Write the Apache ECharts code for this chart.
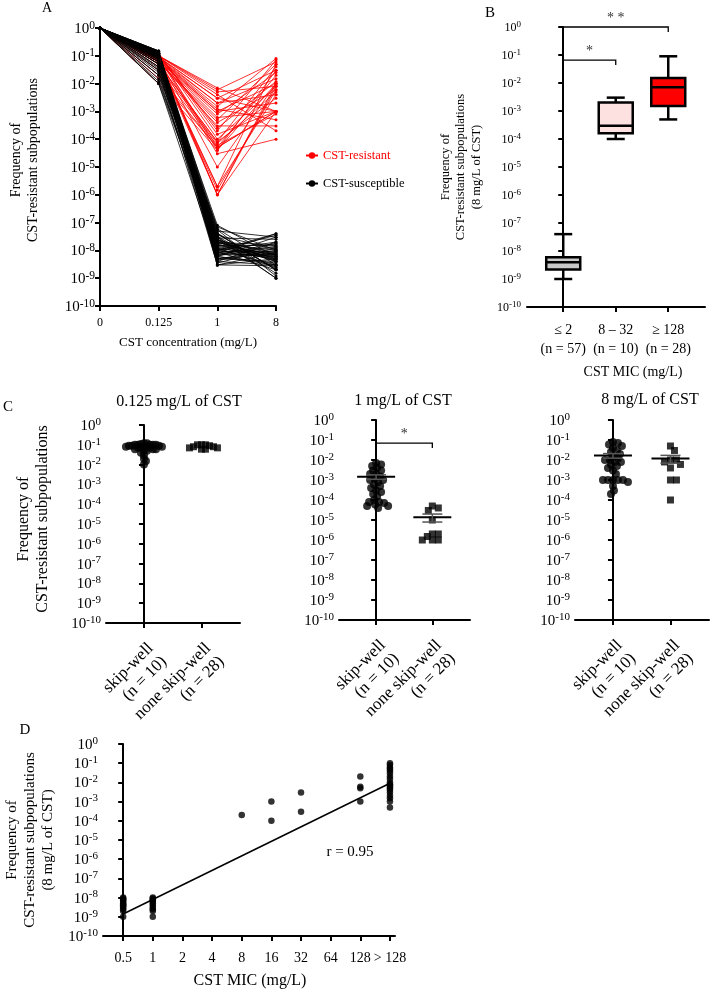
<!DOCTYPE html>
<html><head><meta charset="utf-8">
<script src="https://cdn.jsdelivr.net/npm/echarts@6/dist/echarts.min.js"></script>
<style>html,body{margin:0;padding:0;background:#fff}#c{width:710px;height:992px}</style>
</head><body><div id="c"></div><script>
// ---------------- DATA ----------------
const concLabels = ['0', '0.125', '1', '8'];
const blackAt0125 = [0.15,0.15,0.14,0.14,0.14,0.13,0.13,0.13,0.12,0.12,
  0.12,0.12,0.11,0.11,0.11,0.1,0.1,0.1,0.1,0.1,
  0.09,0.09,0.09,0.09,0.08,0.08,0.08,0.08,0.07,0.07,
  0.07,0.06,0.06,0.06,0.05,0.05,0.05,0.04,0.04,0.035,
  0.03,0.03,0.025,0.02,0.02,0.015,0.012,0.01,0.01,0.13,
  0.12,0.11,0.1,0.09,0.08,0.15,0.14];
const blackAt1 = [2e-8,5e-9,4e-8,1e-8,3e-9,6e-8,1.5e-8,8e-9,3e-8,4e-9,
  2.5e-8,7e-9,5e-8,1.2e-8,3.5e-9,2e-8,9e-9,3e-8,6e-9,1e-8,
  8e-8,1.8e-8,5e-9,4e-8,2.2e-8,1.1e-8,7e-9,3e-9,1.6e-8,2.8e-8,
  6e-9,1.3e-8,3.5e-8,9e-9,2e-8,4.5e-9,1e-8,5.5e-8,1.4e-8,8e-9,
  2.4e-8,3e-9,1.7e-8,7e-8,6e-9,1.2e-8,3.2e-8,5e-9,1.9e-8,1e-8,
  4e-9,2.6e-8,8e-9,1.5e-8,4.2e-8,6.5e-9,2.1e-8];
const blackAt8 = [5e-9,1e-8,2e-9,4e-8,8e-9,3e-9,1.5e-8,6e-9,1e-9,2e-8,
  4e-9,7e-9,3e-8,2.5e-9,1.2e-8,5e-9,9e-9,1.5e-9,3.5e-9,2e-8,
  6e-9,1e-8,4e-9,2e-9,8e-9,3e-9,1.8e-8,5e-9,7e-9,2.5e-8,
  3e-9,4.5e-9,1.1e-8,2e-9,6e-9,9e-9,3.5e-8,1.2e-9,5.5e-9,1.4e-8,
  7e-9,2.8e-9,4e-9,1e-8,3e-8,6e-9,2.2e-9,8e-9,1.6e-8,5e-9,
  3e-9,1e-9,4e-8,7e-9,2e-9,1.3e-8,4.5e-9];

const groupLabelsC = ['skip-well\n(n = 10)', 'none skip-well\n(n = 28)'];
const c1Skip = [0.1,0.1,0.1,0.1,0.09,0.09,0.09,0.08,0.08,0.08,0.08,0.07,0.07,0.07,0.06,0.06,0.06,0.1,0.12,0.12,0.11,0.05,0.05,0.04,0.03,0.02,0.015,0.01];
const c1None = [0.1,0.1,0.09,0.08,0.07,0.06,0.06,0.1,0.08,0.07];
const c2Skip = [7e-3,6e-3,5e-3,4e-3,3e-3,3e-3,2e-3,2e-3,1.5e-3,1.2e-3,1e-3,1e-3,8e-4,6e-4,5e-4,4e-4,3e-4,2.5e-4,2e-4,1.5e-4,1e-4,8e-5,8e-5,7e-5,6e-5,5e-5,5e-5,4e-5];
const c2None = [5e-5,4e-5,3e-5,1e-5,2e-6,2e-6,1e-6,1e-6,1e-6,1.5e-6];
const c3Skip = [0.001,0.06,0.008,0.0002,0.03,0.001,0.015,0.004,0.08,0.0005,0.01,0.002,0.025,0.001,0.05,0.006,0.0003,0.012,0.07,0.001,0.008,0.003,0.04,0.005,0.0008,0.02,0.001,0.01];
const c3None = [0.001,0.03,0.0001,0.01,0.004,0.05,0.001,0.008,0.01,0.006];

const boxGroups = ['\u2264 2\n(n = 57)', '8 \u2013 32\n(n = 10)', '\u2265 128\n(n = 28)'];
// [min, Q1, median, Q3, max]
const boxStats = [[1e-9,2.2e-9,4e-9,6e-9,4e-8],[1e-4,1.6e-4,3e-4,2e-3,3e-3],[5e-4,1.5e-3,7e-3,1.5e-2,9e-2]];

const micLabels = ['0.5','1','2','4','8','16','32','64','128','> 128'];
const dMicIndex = [0,0,0,0,0,0,0,0,0,0,0,0,0, 1,1,1,1,1,1,1,1,1,1,1, 4, 5,5, 6,6, 8,8,8,8,
  9,9,9,9,9,9,9,9,9,9,9,9,9,9,9,9,9,9,9];
const dFreq = [1e-9,2e-9,2.5e-9,3e-9,3.5e-9,4e-9,4.5e-9,5e-9,6e-9,7e-9,8e-9,9e-9,1e-8,
  1e-9,2e-9,2.5e-9,3e-9,4e-9,5e-9,6e-9,7e-9,8e-9,9e-9,1e-8,
  2e-4, 1e-3,1e-4, 3e-3,3e-4, 2e-2,6e-3,5e-3,1e-3,
  0.1,0.08,0.06,0.05,0.04,0.03,0.02,0.015,0.01,0.008,0.007,0.006,0.005,0.004,0.003,0.002,0.0015,0.001,0.0005];
const trendLine = [[0, 1.4e-9], [9, 9e-3]];

// ---------------- HELPERS ----------------
const FONT = 'Liberation Serif';
const redAt0125 = c1Skip.concat(c1None);
const redAt1 = c2Skip.concat(c2None);
const redAt8 = c3Skip.concat(c3None);

const grids = [
  {left:100, top:28, width:176, height:278},   // A
  {left:527, top:27, width:178, height:280},   // B
  {left:106, top:425, width:134, height:198},  // C1
  {left:339, top:420, width:131, height:200},  // C2
  {left:575, top:420, width:134, height:200},  // C3
  {left:103, top:744, width:292, height:192}   // D
];
const axLine = {show:true, lineStyle:{color:'#000', width:2}};
function yLog(gi, bs, ss, margin) {
  return {type:'log', logBase:10, gridIndex:gi, min:1e-10, max:1, interval:1,
    axisLine:axLine, axisTick:{show:true, length:5, lineStyle:{width:2, color:'#000'}},
    splitLine:{show:false},
    axisLabel:{margin:margin, formatter:v => '{b|10}{s|' + Math.round(Math.log10(v)) + '}',
      rich:{b:{fontFamily:FONT, fontSize:bs, color:'#000', lineHeight:bs+2, verticalAlign:'bottom'},
            s:{fontFamily:FONT, fontSize:ss, color:'#000', lineHeight:ss, verticalAlign:'top'}}}};
}
function xCustom(gi, min, max, ticks, labels, lab) {
  return {type:'value', gridIndex:gi, min:min, max:max,
    axisLine:axLine, splitLine:{show:false},
    axisTick:{show:true, length:5, customValues:ticks, lineStyle:{width:2, color:'#000'}},
    axisLabel:Object.assign({customValues:ticks, formatter:v => labels[Math.round(v)],
      fontFamily:FONT, color:'#000'}, lab)};
}
function swarm(values, center, pxPerUnit, pxPerDecade, minDist) {
  const pts = values.map((v, i) => ({v, y: Math.log10(v) * pxPerDecade, i}));
  const order = pts.slice().sort((a, b) => b.v - a.v);
  const placed = [], out = new Array(values.length);
  for (const p of order) {
    let k = 0, dx = 0;
    while (k < 400) {
      const c = k === 0 ? 0 : (k % 2 ? 1 : -1) * Math.ceil(k / 2);
      if (placed.every(q => (q.x - c) ** 2 + (q.y - p.y) ** 2 >= minDist * minDist)) { dx = c; break; }
      k++;
    }
    placed.push({x: dx, y: p.y});
    out[p.i] = [center + dx / pxPerUnit, p.v];
  }
  return out;
}
function meanSem(arr) {
  const n = arr.length, m = arr.reduce((a, b) => a + b, 0) / n;
  const sd = Math.sqrt(arr.reduce((a, b) => a + (b - m) ** 2, 0) / (n - 1));
  const se = sd / Math.sqrt(n);
  return [m, Math.max(m - se, 1e-10), m + se];
}
function meanSeries(xi, groups) {
  return {type:'custom', xAxisIndex:xi, yAxisIndex:xi, z:5, clip:false,
    data: groups.map((g, i) => [i].concat(meanSem(g))),
    renderItem: (params, api) => {
      const x = api.value(0);
      const pm = api.coord([x, api.value(1)]), pl = api.coord([x, api.value(2)]), ph = api.coord([x, api.value(3)]);
      return {type:'group', children:[
        {type:'line', shape:{x1:pm[0]-19, y1:pm[1], x2:pm[0]+19, y2:pm[1]}, style:{stroke:'#000', lineWidth:2}},
        {type:'line', shape:{x1:pm[0], y1:pl[1], x2:pm[0], y2:ph[1]}, style:{stroke:'#555', lineWidth:1.5}},
        {type:'line', shape:{x1:pm[0]-10, y1:pl[1], x2:pm[0]+10, y2:pl[1]}, style:{stroke:'#555', lineWidth:1.5}},
        {type:'line', shape:{x1:pm[0]-10, y1:ph[1], x2:pm[0]+10, y2:ph[1]}, style:{stroke:'#555', lineWidth:1.5}}
      ]};
    }};
}
function bracketSeries(xi, brs) {
  return {type:'custom', xAxisIndex:xi, yAxisIndex:xi, z:6, clip:false,
    data: brs.map(b => [b.from, b.to, b.y]),
    renderItem: (params, api) => {
      const p0 = api.coord([api.value(0), api.value(2)]), p1 = api.coord([api.value(1), api.value(2)]);
      return {type:'group', children:[
        {type:'polyline', shape:{points:[[p0[0], p0[1]+5], [p0[0], p0[1]], [p1[0], p1[1]], [p1[0], p1[1]+5]]},
          style:{stroke:'#000', lineWidth:1.3, fill:null}},
        {type:'text', x:(p0[0]+p1[0])/2, y:p0[1]-2,
          style:{text:brs[params.dataIndex].mark, align:'center', verticalAlign:'bottom', font:'14px "Liberation Serif"', fill:'#333'}}
      ]};
    }};
}
function scatterC(xi, groups, dists) {
  const g = grids[xi];
  const ppu = g.width / (1.67 + 0.66), ppd = g.height / 10;
  return groups.map((arr, i) => ({type:'scatter', xAxisIndex:xi, yAxisIndex:xi, z:3,
    symbol: i === 0 ? 'circle' : 'rect', symbolSize: i === 0 ? 8 : 7,
    itemStyle:{color:'#000'}, data: swarm(arr, i, ppu, ppd, dists[i])}));
}
function t(x, y, text, fs, extra) {
  return Object.assign({type:'text', x:x, y:y,
    style:{text:text, font:fs + 'px "Liberation Serif"', fill:'#000', align:'center', verticalAlign:'middle', lineHeight:fs + 3}}, extra || {});
}

// ---------------- SERIES ----------------
const series = [];
for (let i = 0; i < redAt1.length; i++) {
  series.push({type:'line', name:'CST-resistant', xAxisIndex:0, yAxisIndex:0, z:2,
    data:[[0, 1], [1, redAt0125[i]], [2, redAt1[i]], [3, redAt8[i]]],
    symbol:'circle', symbolSize:3, color:'#ff0000', lineStyle:{width:0.8, color:'#ff0000'}, itemStyle:{color:'#ff0000'}});
}
for (let i = 0; i < blackAt1.length; i++) {
  series.push({type:'line', name:'CST-susceptible', xAxisIndex:0, yAxisIndex:0, z:2,
    data:[[0, 1], [1, blackAt0125[i]], [2, blackAt1[i]], [3, blackAt8[i]]],
    symbol:'circle', symbolSize:3, color:'#000', lineStyle:{width:0.8, color:'#000'}, itemStyle:{color:'#000'}});
}
// B box plots
const boxFill = ['#c8c8c8', '#fde0e0', '#ff0000'];
series.push({type:'custom', xAxisIndex:1, yAxisIndex:1, clip:false,
  data: boxStats.map((s, i) => [i].concat(s)),
  renderItem: (params, api) => {
    const x = api.value(0);
    const p = [1, 2, 3, 4, 5].map(k => api.coord([x, api.value(k)]));
    const cx = p[0][0], hw = 17, hc = 9, st = {stroke:'#000', lineWidth:2.5};
    return {type:'group', children:[
      {type:'line', shape:{x1:cx, y1:p[0][1], x2:cx, y2:p[1][1]}, style:st},
      {type:'line', shape:{x1:cx, y1:p[3][1], x2:cx, y2:p[4][1]}, style:st},
      {type:'line', shape:{x1:cx-hc, y1:p[0][1], x2:cx+hc, y2:p[0][1]}, style:st},
      {type:'line', shape:{x1:cx-hc, y1:p[4][1], x2:cx+hc, y2:p[4][1]}, style:st},
      {type:'rect', shape:{x:cx-hw, y:p[3][1], width:2*hw, height:p[1][1]-p[3][1]},
        style:{fill:boxFill[params.dataIndex], stroke:'#000', lineWidth:2.5}},
      {type:'line', shape:{x1:cx-hw, y1:p[2][1], x2:cx+hw, y2:p[2][1]}, style:st}
    ]};
  }});
series.push(bracketSeries(1, [{from:0, to:1, y:0.066, mark:'*'}, {from:0, to:2, y:1, mark:'* *'}]));
// C panels
series.push(...scatterC(2, [c1Skip, c1None], [3, 4]));
series.push(...scatterC(3, [c2Skip, c2None], [4.5, 5.5]));
series.push(...scatterC(4, [c3Skip, c3None], [4.5, 5.5]));
series.push(meanSeries(3, [c2Skip, c2None]));
series.push(meanSeries(4, [c3Skip, c3None]));
series.push(bracketSeries(3, [{from:0, to:1, y:0.07, mark:'*'}]));
// D
series.push({type:'scatter', xAxisIndex:5, yAxisIndex:5, symbolSize:6.5, itemStyle:{color:'#000'},
  data: dMicIndex.map((x, i) => [x, dFreq[i]])});
series.push({type:'line', xAxisIndex:5, yAxisIndex:5, data:trendLine, symbol:'none',
  lineStyle:{color:'#000', width:1.5}, z:4});

const cLab = {rotate:45, fontSize:17, lineHeight:19, margin:16, align:'right', verticalAlign:'top'};
const option = {
  animation:false,
  grid: grids,
  xAxis: [
    {type:'value', gridIndex:0, min:0, max:3, interval:1, axisLine:axLine, splitLine:{show:false},
      axisTick:{show:true, length:5, lineStyle:{width:2, color:'#000'}},
      axisLabel:{formatter:v => concLabels[Math.round(v)], fontFamily:FONT, fontSize:12, color:'#000', margin:11}},
    xCustom(1, -0.69, 2.7, [0, 1, 2], boxGroups, {fontSize:14, lineHeight:19, margin:14}),
    xCustom(2, -0.66, 1.67, [0, 1], groupLabelsC, cLab),
    xCustom(3, -0.66, 1.67, [0, 1], groupLabelsC, cLab),
    xCustom(4, -0.66, 1.67, [0, 1], groupLabelsC, cLab),
    xCustom(5, -0.68, 9.17, [0,1,2,3,4,5,6,7,8,9], micLabels, {fontSize:14, margin:15})
  ],
  yAxis: [yLog(0, 15, 11.5, 5), yLog(1, 12, 9, 6), yLog(2, 15, 11, 5), yLog(3, 15, 11, 5), yLog(4, 15, 11, 5), yLog(5, 15, 11, 5)],
  legend: {left:300, top:144, orient:'vertical', itemGap:15, itemWidth:12, itemHeight:8,
    textStyle:{fontFamily:FONT, fontSize:12.5},
    data:[{name:'CST-resistant', textStyle:{color:'#ff0000'}}, {name:'CST-susceptible', textStyle:{color:'#000'}}]},
  series: series,
  graphic: [
    t(47, 8, 'A', 14), t(490, 13, 'B', 15), t(8, 407, 'C', 15), t(25, 730, 'D', 15),
    t(25, 160, 'Frequency of\nCST-resistant subpopulations', 14, {rotation:Math.PI/2}),
    t(188, 343, 'CST concentration (mg/L)', 13),
    t(461, 167, 'Frequency of\nCST-resistant subpopulations\n(8 mg/L of CST)', 12.5, {rotation:Math.PI/2}),
    t(633, 372, 'CST MIC (mg/L)', 14),
    t(179, 402, '0.125 mg/L of CST', 16), t(403, 401, '1 mg/L of CST', 16), t(650, 400, '8 mg/L of CST', 16),
    t(33, 519, 'Frequency of\nCST-resistant subpopulations', 16, {rotation:Math.PI/2}),
    t(30, 840, 'Frequency of\nCST-resistant subpopulations\n(8 mg/L of CST)', 15, {rotation:Math.PI/2}),
    t(250, 981, 'CST MIC (mg/L)', 16),
    t(350, 852, 'r = 0.95', 15)
  ]
};
const chart = echarts.init(document.getElementById('c'), null, {renderer:'canvas'});
chart.setOption(option);
</script></body></html>
